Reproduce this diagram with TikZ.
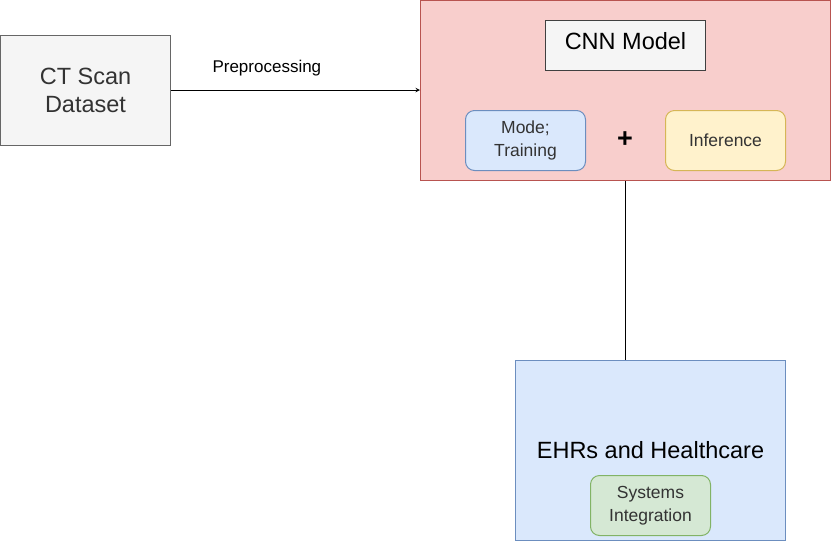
\documentclass[tikz,border=0pt]{standalone}
\usepackage{fontspec}
\setmainfont{Liberation Sans}
\usetikzlibrary{positioning}
\definecolor{grayfill}{HTML}{F5F5F5}
\definecolor{grayline}{HTML}{666666}
\definecolor{redfill}{HTML}{F8CECC}
\definecolor{redline}{HTML}{B85450}
\definecolor{bluefill}{HTML}{DAE8FC}
\definecolor{blueline}{HTML}{6C8EBF}
\definecolor{yellowfill}{HTML}{FFF2CC}
\definecolor{yellowline}{HTML}{D6B656}
\definecolor{greenfill}{HTML}{D5E8D4}
\definecolor{greenline}{HTML}{82B366}
\definecolor{textgray}{HTML}{333333}
\tikzset{
	bigfont/.style = {font = \fontsize{23.5}{28}\selectfont},
	smallfont/.style = {font = \fontsize{17.5}{22.5}\selectfont},
	plainbox/.style = {draw, line width = 1pt, inner sep = 0pt, align = center, text = textgray},
	roundbox/.style = {plainbox, rounded corners = 9pt, smallfont, minimum width = 120pt, minimum height = 60pt}
}
\begin{document}
\begin{tikzpicture}[x = 1pt, y = -1pt]
	\useasboundingbox (0, 0) rectangle (831, 542);
	% input data
	\node[plainbox, bigfont, fill = grayfill, draw = grayline, minimum width = 170pt, minimum height = 110pt]
		(scan) at (85.5, 90) {CT Scan\\Dataset};
	% model block
	\node[plainbox, fill = redfill, draw = redline, minimum width = 410pt, minimum height = 180pt]
		(cnn) at (625.5, 90.5) {};
	\node[plainbox, bigfont, fill = grayfill, draw = black!75, text = black, minimum width = 160pt, minimum height = 50pt, text depth = 10pt]
		(cnnname) at (625.5, 45.5) {CNN Model};
	\node[roundbox, fill = bluefill, draw = blueline] (train) at (525.5, 140.5) {Mode;\\Training};
	\node[roundbox, fill = yellowfill, draw = yellowline] (infer) at (725.5, 140.5) {Inference};
	\node[font = \fontsize{27}{30}\selectfont\bfseries] (plus) at (625, 140) {+};
	% output block
	\node[plainbox, fill = bluefill, draw = blueline, minimum width = 270pt, minimum height = 180pt]
		(ehr) at (650.5, 450.5) {};
	\node[bigfont] (ehrname) at (650.5, 450) {EHRs and Healthcare};
	\node[roundbox, fill = greenfill, draw = greenline] (sys) at (650.5, 505.5) {Systems\\Integration};
	% connectors
	\draw[-stealth, line width = 1pt] (scan.east) -- node[pos = 0.385, above = 10pt, font = \fontsize{17}{20}\selectfont] {Preprocessing} (cnn.west |- scan.east);
	\draw[line width = 1pt] (cnn.south) -- (ehr.north -| cnn.south);
\end{tikzpicture}
\end{document}
